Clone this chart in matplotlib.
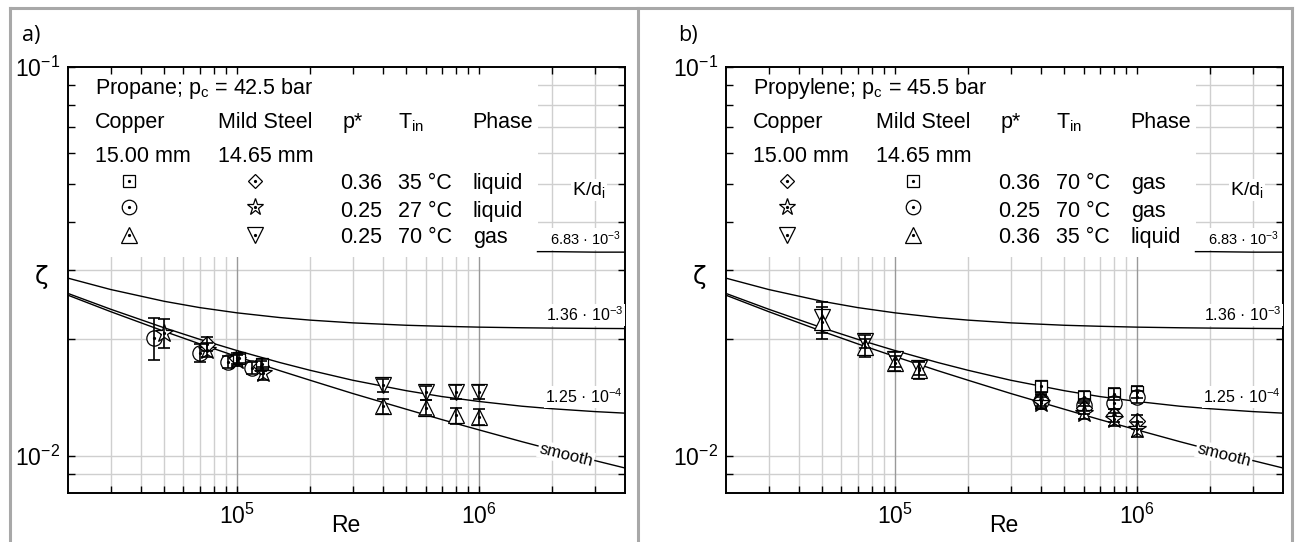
import matplotlib
matplotlib.use('Agg')
import matplotlib.pyplot as plt
from matplotlib.lines import Line2D
from matplotlib.patches import Rectangle
from matplotlib.ticker import FixedLocator, NullFormatter, LogFormatterSciNotation

plt.rcParams['font.family'] = ['Liberation Sans', 'DejaVu Sans']
plt.rcParams['mathtext.fontset'] = 'custom'
plt.rcParams['mathtext.rm'] = 'Liberation Sans'
plt.rcParams['mathtext.it'] = 'Liberation Sans:italic'
plt.rcParams['mathtext.default'] = 'regular'

# ---------- curves ----------
RE_CURVE = [2e4, 3e4, 5e4, 7e4, 1e5, 1.5e5, 2e5, 3e5, 5e5, 7e5, 1e6, 1.5e6, 2e6, 3e6, 4e6]
ZETA_SMOOTH = [0.02588, 0.02348, 0.02089, 0.0194, 0.01799, 0.01655, 0.01564, 0.01446,
               0.01317, 0.01239, 0.01165, 0.01087, 0.01037, 0.00972, 0.00930]
ZETA_125E4 = [0.02615, 0.02382, 0.02133, 0.01993, 0.01864, 0.01737, 0.01659, 0.01564,
              0.0147, 0.0142, 0.01379, 0.01341, 0.01321, 0.01299, 0.01287]
ZETA_136E3 = [0.02863, 0.02677, 0.02496, 0.02405, 0.02331, 0.02267, 0.02233, 0.02197,
              0.02166, 0.02153, 0.02142, 0.02134, 0.0213, 0.02126, 0.02124]
RE_683 = [1.74e6, 2e6, 3e6, 4e6]
ZETA_683 = [0.0335, 0.0335, 0.0334, 0.0334]

# ---------- a) propane ----------
A_SQ_RE = [1.02e5, 1.27e5]
A_SQ_Z = [0.0178, 0.0172]
A_SQ_ERR = [0.0005, 0.0005]
A_CI_RE = [4.54e4, 7.0e4, 9.2e4, 1.15e5]
A_CI_Z = [0.0201, 0.0184, 0.01745, 0.0168]
A_CI_ERR = [0.0025, 0.0010, 0.0006, 0.0006]
A_TU_RE = [4e5, 6e5, 8e5, 1e6]
A_TU_Z = [0.0134, 0.0133, 0.0127, 0.0126]
A_TU_ERR = [0.0006, 0.0006, 0.0006, 0.0006]
A_DI_RE = [7.5e4, 1.0e5, 1.25e5]
A_DI_Z = [0.0194, 0.0178, 0.0170]
A_DI_ERR = [0.0008, 0.0006, 0.0005]
A_ST_RE = [5.0e4, 7.5e4, 1.0e5, 1.28e5]
A_ST_Z = [0.0207, 0.0187, 0.0176, 0.0163]
A_ST_ERR = [0.0018, 0.0008, 0.0006, 0.0006]
A_TD_RE = [4e5, 6e5, 8e5, 1e6]
A_TD_Z = [0.0152, 0.01455, 0.0146, 0.0146]
A_TD_ERR = [0.0006, 0.0006, 0.0006, 0.0006]

# ---------- b) propylene ----------
B_DI_RE = [4e5, 6e5, 8e5, 1e6]
B_DI_Z = [0.0139, 0.0133, 0.0127, 0.01225]
B_DI_ERR = [0.0005, 0.0005, 0.0005, 0.0005]
B_ST_RE = [4e5, 6e5, 8e5, 1e6]
B_ST_Z = [0.0137, 0.0129, 0.0124, 0.0117]
B_ST_ERR = [0.0005, 0.0005, 0.0005, 0.0005]
B_TD_RE = [5e4, 7.5e4, 1e5, 1.25e5]
B_TD_Z = [0.0228, 0.0197, 0.0177, 0.0168]
B_TD_ERR = [0.0021, 0.0008, 0.0008, 0.0007]
B_SQ_RE = [4e5, 6e5, 8e5, 1e6]
B_SQ_Z = [0.0151, 0.0142, 0.0144, 0.0146]
B_SQ_ERR = [0.0005, 0.0005, 0.0005, 0.0005]
B_CI_RE = [4e5, 6e5, 8e5, 1e6]
B_CI_Z = [0.0138, 0.0135, 0.0137, 0.0142]
B_CI_ERR = [0.0005, 0.0005, 0.0005, 0.0005]
B_TU_RE = [5e4, 7.5e4, 1e5, 1.25e5]
B_TU_Z = [0.0221, 0.0190, 0.0173, 0.0166]
B_TU_ERR = [0.0021, 0.0010, 0.0008, 0.0008]

# legend tables
A_TITLE = 'Propane; p$_\\mathregular{c}$ = 42.5 bar'
A_COPPER_MK = ['s', 'o', '^']
A_STEEL_MK = ['D', '*', 'v']
A_PSTAR = ['0.36', '0.25', '0.25']
A_TIN = ['35 °C', '27 °C', '70 °C']
A_PHASE = ['liquid', 'liquid', 'gas']

B_TITLE = 'Propylene; p$_\\mathregular{c}$ = 45.5 bar'
B_COPPER_MK = ['D', '*', 'v']
B_STEEL_MK = ['s', 'o', '^']
B_PSTAR = ['0.36', '0.25', '0.36']
B_TIN = ['70 °C', '70 °C', '35 °C']
B_PHASE = ['gas', 'gas', 'liquid']

MS = {'s': 9, 'o': 11, '^': 11.5, 'v': 11.5, 'D': 8, '*': 13.5}

W, H = 1297, 542
fig = plt.figure(figsize=(W / 100, H / 100), dpi=100)

# panel frames
GRAY = '#a8a8a8'
for xs, ys in [([10, 1292], [8, 8]), ([10, 10], [8, 542]), ([1292, 1292], [8, 542]),
               ([638, 638], [8, 542])]:
    fig.add_artist(Line2D([x / W for x in xs], [1 - y / H for y in ys], color=GRAY, lw=2.2))


def P(px, py):
    # pixel position inside the left panel -> axes fraction
    return (px - 68) / 557, (493 - py) / 426


def marker(ax, x, y, m, ms, tr=None):
    kw = dict(transform=tr) if tr is not None else {}
    ax.plot(x, y, ls='none', marker=m, ms=ms, mfc='white', mec='k', mew=0.9, zorder=3, **kw)
    ax.plot(x, y, ls='none', marker='o', ms=1.3, color='k', zorder=3.1, **kw)


def panel(ax, series, title, cu_mk, st_mk, pstar, tin, phase):
    ax.set_xscale('log')
    ax.set_yscale('log')
    ax.set_xlim(2e4, 4e6)
    ax.set_ylim(0.00802, 0.1)

    # grid
    for y in [0.009, 0.01, 0.02, 0.03, 0.04, 0.05, 0.06, 0.07, 0.08, 0.09]:
        ax.axhline(y, color='#cfcfcf', lw=1, zorder=0.5)
    for x in [3e4, 4e4, 5e4, 6e4, 7e4, 8e4, 9e4, 2e5, 3e5, 4e5, 5e5, 6e5, 7e5, 8e5, 9e5, 2e6, 3e6]:
        ax.axvline(x, color='#cfcfcf', lw=1, zorder=0.5)
    for x in [1e5, 1e6]:
        ax.axvline(x, color='#999999', lw=1, zorder=0.5)

    # legend area
    bx, by = P(538, 257)
    ax.add_patch(Rectangle((0, by), bx, 1 - by, transform=ax.transAxes, fc='white', ec='none', zorder=1))

    for z in [ZETA_SMOOTH, ZETA_125E4, ZETA_136E3]:
        ax.plot(RE_CURVE, z, color='k', lw=1.0, zorder=2)
    ax.plot(RE_683, ZETA_683, color='k', lw=1.0, zorder=2)

    for re, z, err, m in series:
        marker(ax, re, z, m, MS[m])
        ax.errorbar(re, z, yerr=err, fmt='none', ecolor='k', elinewidth=1.2,
                    capsize=4, capthick=1.2, zorder=4)

    # axis styling
    ax.xaxis.set_major_locator(FixedLocator([1e5, 1e6]))
    ax.xaxis.set_minor_locator(FixedLocator([3e4, 4e4, 5e4, 6e4, 7e4, 8e4, 9e4, 2e5, 3e5, 4e5, 5e5,
                                             6e5, 7e5, 8e5, 9e5, 2e6, 3e6]))
    ax.yaxis.set_major_locator(FixedLocator([0.01, 0.1]))
    ax.yaxis.set_minor_locator(FixedLocator([0.009, 0.02, 0.03, 0.04, 0.05, 0.06, 0.07, 0.08, 0.09]))
    ax.xaxis.set_major_formatter(LogFormatterSciNotation())
    ax.yaxis.set_major_formatter(LogFormatterSciNotation())
    ax.xaxis.set_minor_formatter(NullFormatter())
    ax.yaxis.set_minor_formatter(NullFormatter())
    ax.tick_params(which='both', direction='in', top=True, right=True, length=5, width=1)
    ax.tick_params(axis='x', labelsize=16.5, pad=8)
    ax.tick_params(axis='y', labelsize=16.5, pad=6)
    for s in ax.spines.values():
        s.set_linewidth(1.4)

    tr = ax.transAxes
    ax.text(*P(95, 94), title, transform=tr, fontsize=15.5, va='baseline')
    ax.text(*P(95, 128), 'Copper', transform=tr, fontsize=15.5, va='baseline')
    ax.text(*P(218, 128), 'Mild Steel', transform=tr, fontsize=15.5, va='baseline')
    ax.text(*P(343, 128), 'p*', transform=tr, fontsize=15.5, va='baseline')
    ax.text(*P(398, 128), 'T$_\\mathregular{in}$', transform=tr, fontsize=15.5, va='baseline')
    ax.text(*P(472, 128), 'Phase', transform=tr, fontsize=15.5, va='baseline')
    ax.text(*P(95, 162), '15.00 mm', transform=tr, fontsize=15.5, va='baseline')
    ax.text(*P(218, 162), '14.65 mm', transform=tr, fontsize=15.5, va='baseline')
    for i, (yc, yb) in enumerate([(181, 189), (207, 217), (235, 243)]):
        mx1, my = P(129, yc)
        mx2, _ = P(255, yc)
        marker(ax, [mx1], [my], cu_mk[i], MS[cu_mk[i]] * 0.95, tr)
        marker(ax, [mx2], [my], st_mk[i], MS[st_mk[i]] * 0.95, tr)
        ax.text(*P(382, yb), pstar[i], transform=tr, fontsize=15.5, va='baseline', ha='right')
        ax.text(*P(398, yb), tin[i], transform=tr, fontsize=15.5, va='baseline')
        ax.text(*P(473, yb), phase[i], transform=tr, fontsize=15.5, va='baseline')

    wb = dict(fc='white', ec='none', pad=1.0)
    ax.text(*P(589, 190), 'K/d$_\\mathregular{i}$', transform=tr, fontsize=14, ha='center',
            va='center', bbox=wb, zorder=3)
    ax.text(*P(586, 239), '6.83 · 10$^\\mathregular{-3}$', transform=tr, fontsize=10.5,
            ha='center', va='center', bbox=wb, zorder=3)
    ax.text(*P(585, 315), '1.36 · 10$^\\mathregular{-3}$', transform=tr, fontsize=11.5,
            ha='center', va='center', bbox=wb, zorder=3)
    ax.text(*P(584, 397), '1.25 · 10$^\\mathregular{-4}$', transform=tr, fontsize=11.5,
            ha='center', va='center', bbox=wb, zorder=3)
    ax.text(*P(566, 455), 'smooth', transform=tr, fontsize=12, ha='center', va='center',
            rotation=-14, bbox=wb, zorder=3)
    ax.text(*P(346, 525), 'Re', transform=tr, fontsize=16.5, ha='center', va='center')
    ax.text(*P(42, 277), 'ζ', transform=tr, fontsize=18, ha='center', va='center',
            family=['DejaVu Sans'])


ax_a = fig.add_axes([68 / W, 1 - 493 / H, 557 / W, 426 / H])
panel(ax_a,
      [(A_CI_RE, A_CI_Z, A_CI_ERR, 'o'), (A_ST_RE, A_ST_Z, A_ST_ERR, '*'),
       (A_DI_RE, A_DI_Z, A_DI_ERR, 'D'), (A_SQ_RE, A_SQ_Z, A_SQ_ERR, 's'),
       (A_TU_RE, A_TU_Z, A_TU_ERR, '^'), (A_TD_RE, A_TD_Z, A_TD_ERR, 'v')],
      A_TITLE, A_COPPER_MK, A_STEEL_MK, A_PSTAR, A_TIN, A_PHASE)

ax_b = fig.add_axes([726 / W, 1 - 493 / H, 557 / W, 426 / H])
panel(ax_b,
      [(B_TD_RE, B_TD_Z, B_TD_ERR, 'v'), (B_TU_RE, B_TU_Z, B_TU_ERR, '^'),
       (B_SQ_RE, B_SQ_Z, B_SQ_ERR, 's'), (B_CI_RE, B_CI_Z, B_CI_ERR, 'o'),
       (B_DI_RE, B_DI_Z, B_DI_ERR, 'D'), (B_ST_RE, B_ST_Z, B_ST_ERR, '*')],
      B_TITLE, B_COPPER_MK, B_STEEL_MK, B_PSTAR, B_TIN, B_PHASE)

fig.text(22 / W, 1 - 35 / H, 'a)', fontsize=15.5, va='center', family=['Open Sans', 'DejaVu Sans'])
fig.text(678 / W, 1 - 35 / H, 'b)', fontsize=15.5, va='center', family=['Open Sans', 'DejaVu Sans'])

fig.savefig('out.png', dpi=100)
